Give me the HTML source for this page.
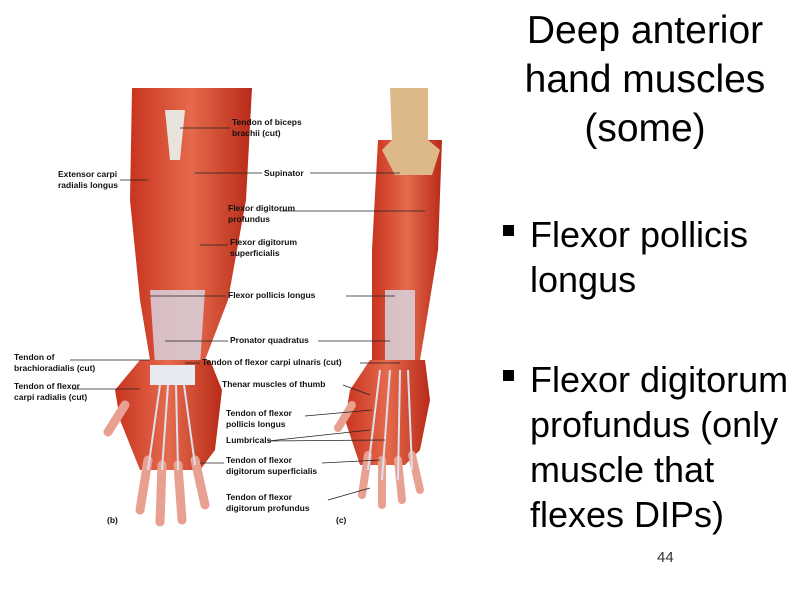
<!DOCTYPE html>
<html><head><meta charset="utf-8"><style>
body{margin:0;width:800px;height:600px;background:#fff;position:relative;overflow:hidden;font-family:"Liberation Sans",Arial,sans-serif}
.t{position:absolute;left:488px;width:314px;text-align:center;font-size:39px;line-height:49px;top:6px;color:#000}
.b{position:absolute;left:530px;font-size:36px;line-height:45px;color:#000;white-space:nowrap}
.sq{position:absolute;left:503px;width:11px;height:11px;background:#000}
.n{position:absolute;left:657px;top:549px;font-size:15px;color:#333}
svg text{font-family:"Liberation Sans",Arial,sans-serif;font-size:8.5px;font-weight:bold;fill:#111}
</style></head><body>
<svg width="800" height="600" style="position:absolute;left:0;top:0">
<defs>
<linearGradient id="m" x1="0" x2="1"><stop offset="0" stop-color="#c8341f"/><stop offset=".5" stop-color="#e56a4c"/><stop offset="1" stop-color="#b82a18"/></linearGradient>
</defs>
<path d="M132 88 L252 88 L246 200 L228 300 L205 360 L150 360 L140 300 L130 200 Z" fill="url(#m)"/>
<path d="M165 110 L185 110 L180 160 L170 160Z" fill="#e8e4dc"/>
<path d="M150 290 L205 290 L200 365 L155 365Z" fill="#d8dbe8" opacity=".8"/>
<path d="M140 360 L210 360 L222 390 L215 450 L200 470 L140 470 L120 420 L115 390Z" fill="url(#m)"/>
<path d="M150 365 L195 365 L195 385 L150 385Z" fill="#e8eaf2"/>
<g stroke="#e8a090" stroke-width="9" stroke-linecap="round">
<line x1="148" y1="460" x2="140" y2="510"/><line x1="162" y1="465" x2="160" y2="522"/>
<line x1="178" y1="465" x2="182" y2="520"/><line x1="195" y1="460" x2="205" y2="505"/>
<line x1="125" y1="405" x2="108" y2="432"/></g>
<g stroke="#dde0ee" stroke-width="2"><line x1="160" y1="385" x2="148" y2="470"/><line x1="168" y1="385" x2="162" y2="470"/><line x1="176" y1="385" x2="178" y2="470"/><line x1="184" y1="385" x2="195" y2="465"/></g>
<path d="M378 140 L442 140 L438 250 L425 330 L420 360 L372 360 L372 250 Z" fill="url(#m)"/>
<path d="M390 88 L428 88 L428 140 L440 150 L432 175 L395 175 L382 150 L392 140Z" fill="#ddb98a"/>
<path d="M385 290 L415 290 L415 365 L385 365Z" fill="#d8dbe8" opacity=".8"/>
<path d="M370 360 L425 360 L430 400 L420 450 L405 465 L360 465 L345 420 L350 390Z" fill="url(#m)"/>
<g stroke="#e8a090" stroke-width="8" stroke-linecap="round">
<line x1="368" y1="455" x2="362" y2="495"/><line x1="382" y1="460" x2="382" y2="505"/>
<line x1="398" y1="460" x2="402" y2="500"/><line x1="412" y1="455" x2="420" y2="490"/>
<line x1="352" y1="405" x2="338" y2="428"/></g>
<g stroke="#dde0ee" stroke-width="2"><line x1="380" y1="370" x2="368" y2="470"/><line x1="390" y1="370" x2="382" y2="480"/><line x1="400" y1="370" x2="398" y2="480"/><line x1="408" y1="370" x2="412" y2="470"/></g>
<g stroke="#222" stroke-width=".8" fill="none">
<line x1="180" y1="128" x2="230" y2="128"/><line x1="120" y1="180" x2="148" y2="180"/>
<line x1="195" y1="173" x2="262" y2="173"/><line x1="310" y1="173" x2="400" y2="173"/>
<line x1="280" y1="211" x2="425" y2="211"/><line x1="200" y1="245" x2="228" y2="245"/>
<line x1="150" y1="296" x2="226" y2="296"/><line x1="346" y1="296" x2="395" y2="296"/>
<line x1="165" y1="341" x2="228" y2="341"/><line x1="318" y1="341" x2="390" y2="341"/>
<line x1="70" y1="360" x2="150" y2="360"/><line x1="185" y1="363" x2="200" y2="363"/><line x1="360" y1="363" x2="400" y2="363"/>
<line x1="72" y1="389" x2="140" y2="389"/><line x1="343" y1="385" x2="370" y2="395"/>
<line x1="305" y1="416" x2="372" y2="410"/><line x1="268" y1="441" x2="370" y2="430"/><line x1="268" y1="441" x2="385" y2="440"/>
<line x1="200" y1="463" x2="224" y2="463"/><line x1="322" y1="463" x2="380" y2="460"/>
<line x1="328" y1="500" x2="370" y2="488"/></g>
<text x="232" y="125">Tendon of biceps</text><text x="232" y="136">brachii (cut)</text>
<text x="58" y="177">Extensor carpi</text><text x="58" y="188">radialis longus</text>
<text x="264" y="176">Supinator</text>
<text x="228" y="211">Flexor digitorum</text><text x="228" y="222">profundus</text>
<text x="230" y="245">Flexor digitorum</text><text x="230" y="256">superficialis</text>
<text x="228" y="298">Flexor pollicis longus</text>
<text x="230" y="343">Pronator quadratus</text>
<text x="14" y="360">Tendon of</text><text x="14" y="371">brachioradialis (cut)</text>
<text x="202" y="365">Tendon of flexor carpi ulnaris (cut)</text>
<text x="14" y="389">Tendon of flexor</text><text x="14" y="400">carpi radialis (cut)</text>
<text x="222" y="387">Thenar muscles of thumb</text>
<text x="226" y="416">Tendon of flexor</text><text x="226" y="427">pollicis longus</text>
<text x="226" y="443">Lumbricals</text>
<text x="226" y="463">Tendon of flexor</text><text x="226" y="474">digitorum superficialis</text>
<text x="226" y="500">Tendon of flexor</text><text x="226" y="511">digitorum profundus</text>
<text x="107" y="523">(b)</text><text x="336" y="523">(c)</text>
</svg>
<div class="t">Deep anterior<br>hand muscles<br>(some)</div>
<div class="sq" style="top:225px"></div>
<div class="b" style="top:212px">Flexor pollicis<br>longus</div>
<div class="sq" style="top:370px"></div>
<div class="b" style="top:357px">Flexor digitorum<br>profundus (only<br>muscle that<br>flexes DIPs)</div>
<div class="n">44</div>
</body></html>
